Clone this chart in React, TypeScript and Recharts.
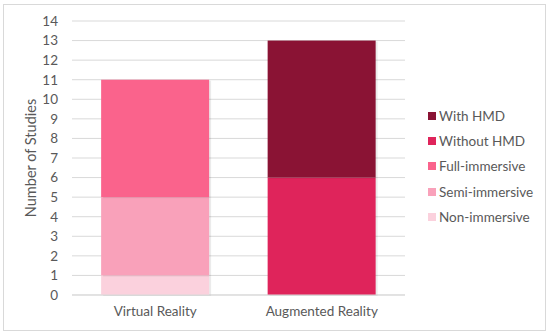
import { BarChart, Bar, XAxis, YAxis, CartesianGrid } from 'recharts';

const categories = ['Virtual Reality', 'Augmented Reality'];
const nonImmersive = [1, 0];
const semiImmersive = [4, 0];
const fullImmersive = [6, 0];
const withoutHmd = [0, 6];
const withHmd = [0, 7];
const yTicks = [0, 1, 2, 3, 4, 5, 6, 7, 8, 9, 10, 11, 12, 13, 14];

const series = [
  { key: 'non', name: 'Non-immersive', color: '#FBD1DD' },
  { key: 'semi', name: 'Semi-immersive', color: '#F9A1BA' },
  { key: 'full', name: 'Full-immersive', color: '#FA638C' },
  { key: 'without', name: 'Without HMD', color: '#DF245B' },
  { key: 'with', name: 'With HMD', color: '#8A1334' },
];

const data = categories.map((name, i) => ({
  name,
  non: nonImmersive[i],
  semi: semiImmersive[i],
  full: fullImmersive[i],
  without: withoutHmd[i],
  with: withHmd[i],
}));

const font = 'Lato, "Open Sans", sans-serif';
const textColor = '#595959';

function LegendList() {
  return (
    <div style={{ fontFamily: font, fontSize: 13.5, color: textColor }}>
      {[...series].reverse().map((s) => (
        <div key={s.key} style={{ display: 'flex', alignItems: 'center', height: 25.3 }}>
          <span style={{ width: 8, height: 8, background: s.color, marginRight: 3, display: 'inline-block' }} />
          {s.name}
        </div>
      ))}
    </div>
  );
}

function YLabel() {
  return (
    <text
      x={30}
      y={158}
      transform="rotate(-90, 30, 158)"
      textAnchor="middle"
      dominantBaseline="central"
      fill={textColor}
      fontSize={14.5}
      fontFamily={font}
    >
      Number of Studies
    </text>
  );
}

// small soft shadow like the original office chart
function ShadowBar(props: any) {
  const { x, y, width, height, fill } = props;
  if (!height || height <= 0) return null;
  return (
    <g>
      <rect x={x + 2} y={y + 1} width={width} height={height} fill="rgba(0,0,0,0.08)" />
      <rect x={x} y={y} width={width} height={height} fill={fill} />
    </g>
  );
}

export default function App() {
  return (
    <div style={{ position: 'fixed', left: 0, top: 0, width: 550, height: 334, background: '#fff' }}>
      <div
        style={{
          position: 'absolute',
          left: 3,
          top: 4,
          width: 541,
          height: 325,
          border: '1px solid #D9D9D9',
        }}
      />
      <div style={{ position: 'absolute', left: 0, top: 0 }}>
        <BarChart
          width={550}
          height={334}
          data={data}
          margin={{ top: 21, right: 145, bottom: 9, left: 0 }}
          barCategoryGap="17.5%"
        >
          <CartesianGrid vertical={false} stroke="#D9D9D9" />
          <XAxis
            dataKey="name"
            axisLine={{ stroke: '#D9D9D9' }}
            tickLine={false}
            height={30}
            tickMargin={5}
            tick={{ fill: textColor, fontSize: 13.5, fontFamily: font }}
          />
          <YAxis
            width={72}
            domain={[0, 14]}
            ticks={yTicks}
            interval={0}
            axisLine={false}
            tickLine={false}
            tickSize={0}
            tickMargin={14}
            tick={{ fill: textColor, fontSize: 13.5, fontFamily: font }}
            label={<YLabel />}
          />
          {series.map((s) => (
            <Bar
              key={s.key}
              dataKey={s.key}
              name={s.name}
              stackId="a"
              fill={s.color}
              shape={<ShadowBar />}
              isAnimationActive={false}
            />
          ))}
        </BarChart>
      </div>
      <div style={{ position: 'absolute', left: 428, top: 103 }}>
        <LegendList />
      </div>
    </div>
  );
}
